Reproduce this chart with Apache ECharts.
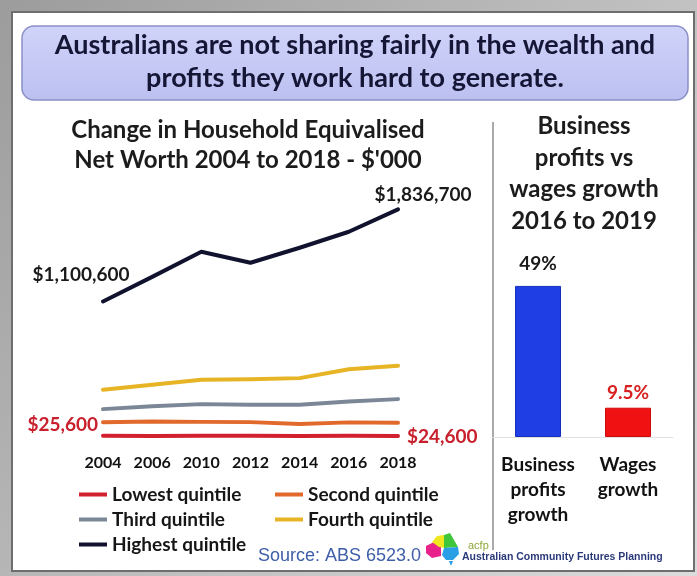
<!DOCTYPE html>
<html>
<head>
<meta charset="utf-8">
<script src="https://cdn.jsdelivr.net/npm/echarts@6/dist/echarts.min.js"></script>
<style>
html,body{margin:0;padding:0;background:#fff;}
#chart{width:697px;height:576px;}
</style>
</head>
<body>
<div id="chart"></div>
<script>
// ---- data ----
const years = ['2004', '2006', '2010', '2012', '2014', '2016', '2018'];
const lowest = [25600, 25000, 25500, 25200, 25000, 25300, 24600];
const second = [134000, 140000, 137000, 135000, 120000, 133000, 130000];
const third = [239000, 262000, 279000, 274000, 274000, 300000, 319000];
const fourth = [394000, 434000, 474000, 478000, 487000, 558000, 586000];
const highest = [1100600, 1297000, 1498000, 1410000, 1530000, 1658000, 1836700];
const seriesNames = ['Lowest quintile', 'Second quintile', 'Third quintile', 'Fourth quintile', 'Highest quintile'];
const barCategories = ['Business\nprofits\ngrowth', 'Wages\ngrowth'];
const barValues = [49, 9.5];

const FONT = 'Lato';
const chart = echarts.init(document.getElementById('chart'), null, {renderer: 'canvas'});

function money(v) { return '$' + Number(v).toLocaleString('en-US'); }

function withEndLabels(arr, first, last) {
  return arr.map((v, i) => {
    if (i === 0 && first) return {value: v, label: Object.assign({show: true, formatter: p => money(p.value)}, first)};
    if (i === arr.length - 1 && last) return {value: v, label: Object.assign({show: true, formatter: p => money(p.value)}, last)};
    return v;
  });
}

const lineColors = ['#d3202f', '#e0692b', '#7b8797', '#e6b425', '#10122e'];
const labelBase = {fontFamily: FONT, fontWeight: 'bold', fontSize: 19};

const lineData = [
  withEndLabels(lowest,
    Object.assign({}, labelBase, {position: 'left', distance: 5, offset: [0, -11], color: '#c8202c'}),
    Object.assign({}, labelBase, {position: 'right', distance: 5, offset: [4, 1], color: '#c8202c'})),
  second,
  third,
  fourth,
  withEndLabels(highest,
    Object.assign({}, labelBase, {position: 'top', distance: 5, offset: [-22, -12], color: '#1a1a1a'}),
    Object.assign({}, labelBase, {position: 'top', distance: 5, offset: [25, 0], color: '#1a1a1a'}))
];

const lineSeries = lineData.map((d, i) => ({
  name: seriesNames[i],
  type: 'line',
  xAxisIndex: 0,
  yAxisIndex: 0,
  data: d,
  showSymbol: true,
  symbol: 'circle',
  symbolSize: 0,
  smooth: false,
  lineStyle: {width: 4, color: lineColors[i], cap: 'round', join: 'round'},
  itemStyle: {color: lineColors[i]},
  emphasis: {disabled: true},
  silent: true,
  z: i === 4 ? 5 : 3
}));

const legendText = {fontFamily: FONT, fontWeight: 'bold', fontSize: 19, color: '#161616', lineHeight: 19};

const option = {
  animation: false,
  backgroundColor: '#c6c6c6',
  graphic: [
    {type: 'rect', shape: {x: 0, y: 0, width: 697, height: 576},
      style: {fill: new echarts.graphic.LinearGradient(0, 0, 1, 1, [{offset: 0, color: '#9c9c9c'}, {offset: 1, color: '#dcdcdc'}])}, z: -10, silent: true},
    {type: 'rect', shape: {x: 12, y: 12, width: 682, height: 559},
      style: {fill: '#ffffff', stroke: '#6e6e6e', lineWidth: 2}, z: -9, silent: true},
    {type: 'rect', shape: {x: 22, y: 26, width: 666, height: 74, r: 12},
      style: {fill: new echarts.graphic.LinearGradient(0, 0, 0, 1, [{offset: 0, color: '#d0d3f9'}, {offset: 1, color: '#bcc0f0'}]), stroke: '#8b90c6', lineWidth: 1.5}, z: -8, silent: true},
    {type: 'text', x: 355, y: 62, style: {text: 'Australians are not sharing fairly in the wealth and\nprofits they work hard to generate.', align: 'center', verticalAlign: 'middle', fontFamily: FONT, fontWeight: 'bold', fontSize: 27, lineHeight: 33, fill: '#151535'}},
    {type: 'text', x: 248, y: 145, style: {text: "Change in Household Equivalised\nNet Worth 2004 to 2018 - $'000", align: 'center', verticalAlign: 'middle', fontFamily: FONT, fontWeight: 'bold', fontSize: 24, lineHeight: 30, fill: '#1c1c1c'}},
    {type: 'text', x: 584, y: 174, style: {text: 'Business\nprofits vs\nwages growth\n2016 to 2019', align: 'center', verticalAlign: 'middle', fontFamily: FONT, fontWeight: 'bold', fontSize: 24, lineHeight: 31.5, fill: '#1c1c1c'}},
    {type: 'line', shape: {x1: 493, y1: 122, x2: 493, y2: 550}, style: {stroke: '#555555', lineWidth: 1}, silent: true},
    {type: 'text', x: 258, y: 556, style: {text: 'Source: ABS 6523.0', verticalAlign: 'middle', fontFamily: 'Liberation Sans', fontSize: 18, fill: '#3e5ea8'}},
    // logo (approximate map shapes)
    {type: 'polygon', shape: {points: [[426, 546], [434, 542], [441, 545], [441, 556], [432, 558], [426, 553]]}, style: {fill: '#e8228a'}, silent: true},
    {type: 'polygon', shape: {points: [[432, 542], [437, 536], [444, 535], [445, 548], [439, 547]]}, style: {fill: '#f0e620'}, silent: true},
    {type: 'polygon', shape: {points: [[444, 535], [450, 533], [454, 540], [458, 547], [444, 548]]}, style: {fill: '#3fc63a'}, silent: true},
    {type: 'polygon', shape: {points: [[444, 548], [458, 547], [459, 554], [453, 560], [446, 560], [442, 555]]}, style: {fill: '#2a9fe6'}, silent: true},
    {type: 'polygon', shape: {points: [[449, 561], [453, 561], [451, 566]]}, style: {fill: '#2a9fe6'}, silent: true},
    {type: 'text', x: 468, y: 546, style: {text: 'acfp', verticalAlign: 'middle', fontFamily: 'Liberation Sans', fontSize: 11, fill: '#8fa83a'}},
    {type: 'text', x: 462, y: 557, style: {text: 'Australian Community Futures Planning', verticalAlign: 'middle', fontFamily: 'Liberation Sans', fontWeight: 'bold', fontSize: 10.5, fill: '#2b3a7a'}}
  ],
  legend: [
    {data: [seriesNames[0], seriesNames[2], seriesNames[4]], orient: 'vertical', left: 74, top: 480, itemWidth: 28, itemHeight: 4, itemGap: 6, icon: 'rect', textStyle: legendText, selectedMode: false},
    {data: [seriesNames[1], seriesNames[3]], orient: 'vertical', left: 270, top: 480, itemWidth: 28, itemHeight: 4, itemGap: 6, icon: 'rect', textStyle: legendText, selectedMode: false}
  ],
  grid: [
    {left: 103, width: 295, top: 189, height: 250},
    {left: 493, width: 180, top: 252, height: 185}
  ],
  xAxis: [
    {type: 'category', gridIndex: 0, data: years, boundaryGap: false,
      axisLine: {show: false}, axisTick: {show: false}, splitLine: {show: false},
      axisLabel: {margin: 16, fontFamily: FONT, fontWeight: 'bold', fontSize: 16, color: '#111111', interval: 0}},
    {type: 'category', gridIndex: 1, data: barCategories,
      axisLine: {show: true, lineStyle: {color: '#e2e2e2', width: 1}}, axisTick: {show: false},
      axisLabel: {margin: 15, fontFamily: FONT, fontWeight: 'bold', fontSize: 19, lineHeight: 25, color: '#111111', interval: 0}}
  ],
  yAxis: [
    {type: 'value', gridIndex: 0, min: 0, max: 2000000, show: false},
    {type: 'value', gridIndex: 1, min: 0, max: 60, show: false}
  ],
  series: lineSeries.concat([
    {
      type: 'bar', xAxisIndex: 1, yAxisIndex: 1, barWidth: 46, silent: true,
      data: barValues.map((v, i) => ({
        value: v,
        itemStyle: {color: i === 0 ? '#1f3ee4' : '#f01212', borderColor: i === 0 ? '#1530b8' : '#cc0c0c', borderWidth: 1},
        label: {color: i === 0 ? '#1a1a1a' : '#d82020', distance: i === 0 ? 13 : 5}
      })),
      label: {show: true, position: 'top', fontFamily: FONT, fontWeight: 'bold', fontSize: 19, formatter: p => p.value + '%'}
    }
  ])
};

chart.setOption(option);
</script>
</body>
</html>
